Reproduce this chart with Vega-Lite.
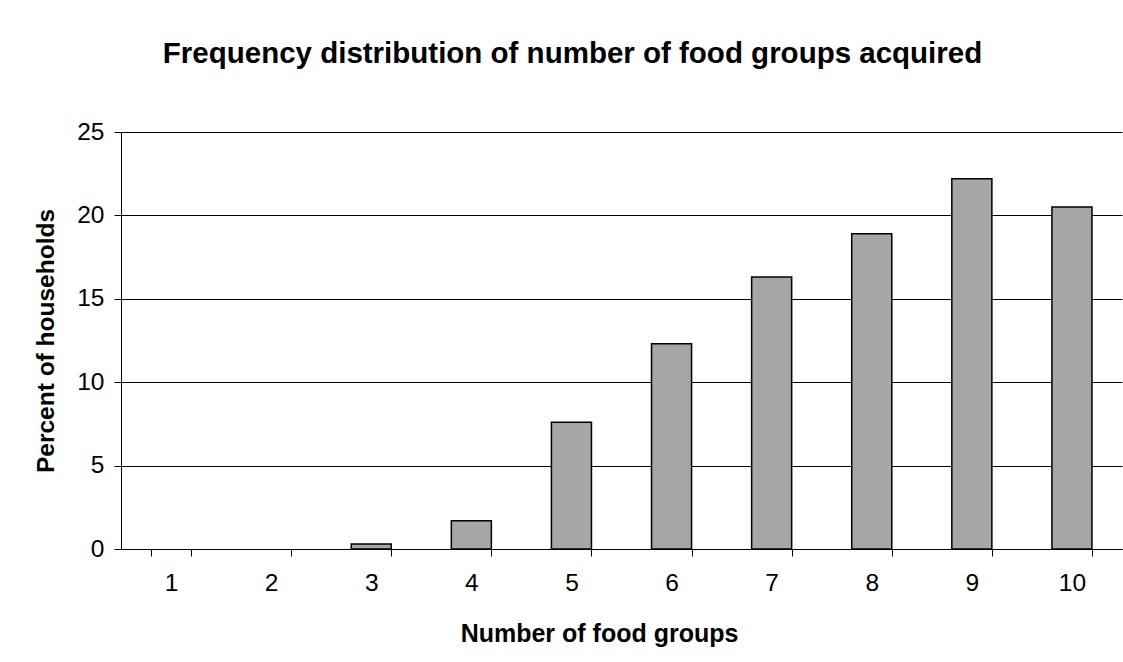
{
  "$schema": "https://vega.github.io/schema/vega-lite/v6.json",
  "width": 1001,
  "height": 417,
  "autosize": {"type": "none"},
  "padding": {"left": 121, "top": 132, "right": 1, "bottom": 113},
  "background": "white",
  "title": {
    "text": "Frequency distribution of number of food groups acquired",
    "font": "Liberation Sans",
    "fontSize": 29.5,
    "fontWeight": "bold",
    "color": "black",
    "anchor": "middle",
    "dx": -49,
    "offset": 50
  },
  "data": {
    "values": [
      {"groups": 1, "percent": 0},
      {"groups": 2, "percent": 0},
      {"groups": 3, "percent": 0.3},
      {"groups": 4, "percent": 1.7},
      {"groups": 5, "percent": 7.6},
      {"groups": 6, "percent": 12.3},
      {"groups": 7, "percent": 16.3},
      {"groups": 8, "percent": 18.9},
      {"groups": 9, "percent": 22.2},
      {"groups": 10, "percent": 20.5}
    ]
  },
  "transform": [{"filter": "datum.percent > 0"}],
  "mark": {"type": "bar", "fill": "#a6a6a6", "stroke": "black", "strokeWidth": 1.5},
  "encoding": {
    "x": {
      "field": "groups",
      "type": "ordinal",
      "scale": {"domain": [1, 2, 3, 4, 5, 6, 7, 8, 9, 10], "paddingInner": 0.6, "paddingOuter": 0.3},
      "axis": {
        "title": "Number of food groups",
        "titleX": 478,
        "labelAngle": 0,
        "tickBand": "extent",
        "tickSize": 7,
        "tickColor": "black",
        "domainColor": "black",
        "labelFont": "Liberation Sans",
        "labelFontSize": 24.5,
        "labelColor": "black",
        "labelPadding": 15,
        "titleFont": "Liberation Sans",
        "titleFontSize": 25,
        "titleFontWeight": "bold",
        "titleColor": "black",
        "titlePadding": 27
      }
    },
    "y": {
      "field": "percent",
      "type": "quantitative",
      "scale": {"domain": [0, 25]},
      "axis": {
        "title": "Percent of households",
        "values": [0, 5, 10, 15, 20, 25],
        "grid": true,
        "gridColor": "black",
        "gridOpacity": 1,
        "tickSize": 7,
        "tickColor": "black",
        "domainColor": "black",
        "labelFont": "Liberation Sans",
        "labelFontSize": 24.5,
        "labelColor": "black",
        "labelPadding": 10,
        "titleFont": "Liberation Sans",
        "titleFontSize": 24.5,
        "titleFontWeight": "bold",
        "titleColor": "black",
        "titlePadding": 18
      }
    }
  },
  "config": {"view": {"stroke": null}}
}
